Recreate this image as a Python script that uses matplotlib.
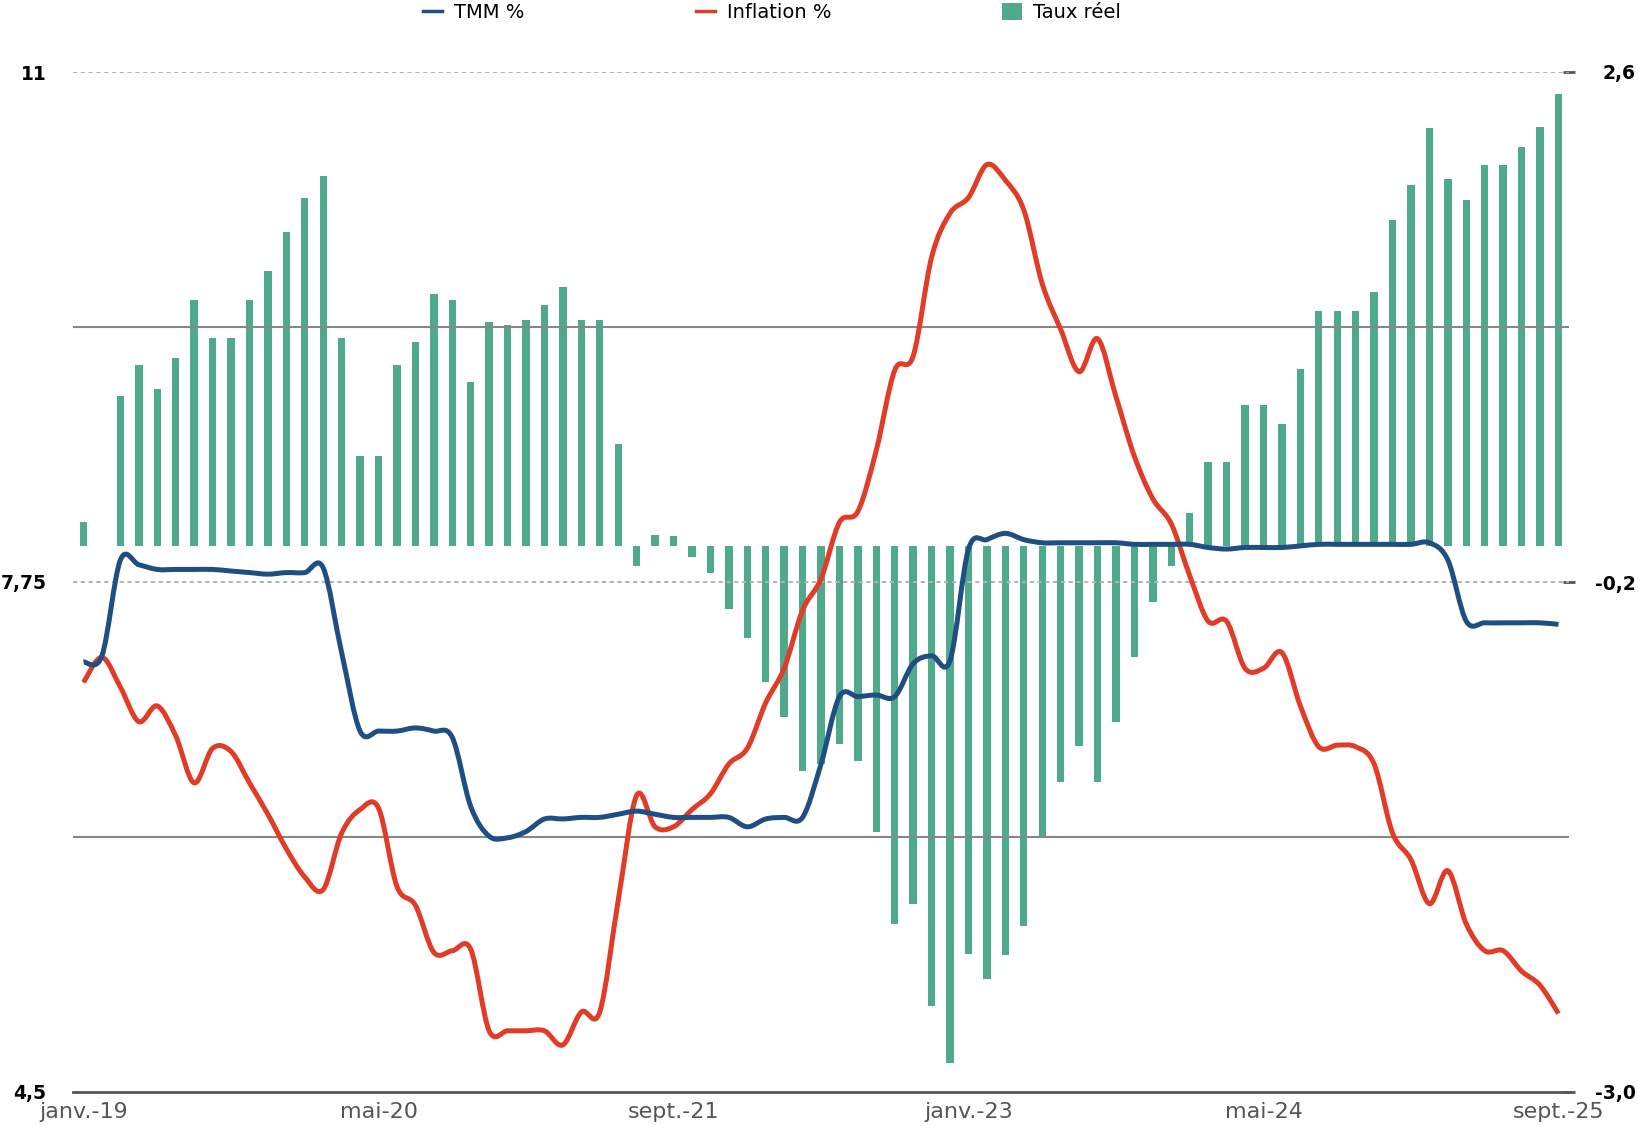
import matplotlib
matplotlib.use("Agg")
import matplotlib.pyplot as plt
import pandas as pd
from matplotlib.path import Path
from matplotlib.patches import PathPatch, Patch
from matplotlib.lines import Line2D

# Monthly data, janv. 2019 -> sept. 2025
mois = pd.date_range("2019-01-01", "2025-09-01", freq="MS")
noms_mois = ["janv.", "févr.", "mars", "avr.", "mai", "juin", "juil.", "août",
             "sept.", "oct.", "nov.", "déc."]
mois_labels = [f"{noms_mois[d.month - 1]}-{d.year % 100:02d}" for d in mois]
ticks_labels = ["janv.-19", "mai-20", "sept.-21", "janv.-23", "mai-24", "sept.-25"]

tmm = [7.24, 7.28, 7.89, 7.86, 7.83, 7.83, 7.83, 7.83, 7.82, 7.81, 7.80, 7.81,
       7.81, 7.84, 7.30, 6.80, 6.80, 6.80, 6.82, 6.80, 6.76, 6.32, 6.13, 6.12,
       6.16, 6.24, 6.24, 6.25, 6.25, 6.27, 6.29, 6.27, 6.25, 6.25, 6.25, 6.25,
       6.19, 6.24, 6.25, 6.25, 6.59, 7.02, 7.02, 7.03, 7.02, 7.23, 7.28, 7.25,
       7.96, 8.02, 8.06, 8.02, 8.00, 8.00, 8.00, 8.00, 8.00, 7.99, 7.99, 7.99,
       7.99, 7.97, 7.96, 7.97, 7.97, 7.97, 7.98, 7.99, 7.99, 7.99, 7.99, 7.99,
       7.99, 8.00, 7.89, 7.50, 7.49, 7.49, 7.49, 7.49, 7.48]

inflation = [7.11, 7.27, 7.08, 6.86, 6.96, 6.77, 6.47, 6.69, 6.67, 6.47, 6.27, 6.05,
             5.87, 5.79, 6.15, 6.30, 6.31, 5.81, 5.69, 5.39, 5.40, 5.41, 4.89, 4.89,
             4.89, 4.89, 4.80, 5.01, 5.01, 5.72, 6.39, 6.19, 6.19, 6.30, 6.40, 6.59,
             6.69, 6.98, 7.20, 7.57, 7.77, 8.13, 8.20, 8.59, 9.10, 9.19, 9.82, 10.10,
             10.20, 10.41, 10.31, 10.12, 9.65, 9.36, 9.09, 9.30, 8.93, 8.55, 8.28, 8.12,
             7.79, 7.50, 7.50, 7.20, 7.20, 7.30, 6.96, 6.70, 6.71, 6.70, 6.59, 6.15,
             5.98, 5.70, 5.91, 5.57, 5.40, 5.40, 5.27, 5.18, 5.00]

taux_reel = [0.13, 0.00, 0.82, 0.99, 0.86, 1.03, 1.35, 1.14, 1.14, 1.35, 1.51, 1.72,
             1.91, 2.03, 1.14, 0.49, 0.49, 0.99, 1.12, 1.38, 1.35, 0.90, 1.23, 1.21,
             1.24, 1.32, 1.42, 1.24, 1.24, 0.56, -0.11, 0.06, 0.05, -0.06, -0.15, -0.35,
             -0.51, -0.75, -0.94, -1.24, -1.20, -1.09, -1.18, -1.57, -2.08, -1.97, -2.53, -2.84,
             -2.24, -2.38, -2.25, -2.09, -1.60, -1.30, -1.10, -1.30, -0.97, -0.61, -0.31, -0.11,
             0.18, 0.46, 0.46, 0.77, 0.77, 0.67, 0.97, 1.29, 1.29, 1.29, 1.39, 1.79,
             1.98, 2.29, 2.01, 1.90, 2.09, 2.09, 2.19, 2.30, 2.48]

BLEU = "#1F4E82"
ROUGE = "#E03C28"
VERT = "#4FAA8D"


def courbe_lissee(xs, ys):
    # smooth curve through every point (cubic bezier, catmull-rom tangents)
    n = len(xs)
    verts = [(xs[0], ys[0])]
    codes = [Path.MOVETO]
    for k in range(n - 1):
        xa, ya = (xs[k - 1], ys[k - 1]) if k > 0 else (xs[k], ys[k])
        xb, yb = (xs[k + 2], ys[k + 2]) if k + 2 < n else (xs[k + 1], ys[k + 1])
        c1 = (xs[k] + (xs[k + 1] - xa) / 6, ys[k] + (ys[k + 1] - ya) / 6)
        c2 = (xs[k + 1] - (xb - xs[k]) / 6, ys[k + 1] - (yb - ys[k]) / 6)
        verts += [c1, c2, (xs[k + 1], ys[k + 1])]
        codes += [Path.CURVE4] * 3
    return Path(verts, codes)


x = list(range(len(mois_labels)))

fig = plt.figure(figsize=(16.4, 11.26), dpi=100)
ax = fig.add_axes([73 / 1640, 1 - 1092 / 1126, (1569 - 73) / 1640, (1092 - 72) / 1126])
ax2 = ax.twinx()

# bars on the right-hand scale
ax.bar(x, taux_reel, width=0.4, color=VERT, zorder=2)
ax.set_ylim(-3.0, 2.6)
ax.set_xlim(-0.57, len(x) - 1 + 0.57)

for niveau in [2.6, -0.2]:
    ax.axhline(niveau, color="#B3B3B3", lw=1.4, ls=(0, (2.2, 1.8)), zorder=3)
for niveau in [1.2, -1.6]:
    ax.axhline(niveau, color="#878787", lw=1.5, zorder=3)

for s in ["top", "left", "right"]:
    ax.spines[s].set_visible(False)
ax.spines["bottom"].set_color("#555555")
ax.spines["bottom"].set_linewidth(2)
for s in ax2.spines.values():
    s.set_visible(False)

ax.yaxis.tick_right()
ax.set_yticks([2.6, -0.2, -3.0])
ax.set_yticklabels(["2,6", "-0,2", "-3,0"])
ax.tick_params(axis="y", direction="inout", length=8, width=2, color="#555555",
               pad=44, labelsize=13.5)
for lab in ax.get_yticklabels():
    lab.set_ha("right")
    lab.set_fontweight("bold")

positions = [mois_labels.index(t) for t in ticks_labels]
ax.set_xticks(positions)
ax.set_xticklabels(ticks_labels)
ax.tick_params(axis="x", length=0, pad=7, labelsize=16, labelcolor="#555555")

# lines on the left-hand scale
ax2.set_ylim(4.5, 11)
ax2.yaxis.tick_left()
ax2.set_yticks([11, 7.75, 4.5])
ax2.set_yticklabels(["11", "7,75", "4,5"])
ax2.tick_params(axis="y", length=0, pad=19, labelsize=13.5)
for lab in ax2.get_yticklabels():
    lab.set_fontweight("bold")

for serie, couleur in [(inflation, ROUGE), (tmm, BLEU)]:
    ax2.add_patch(PathPatch(courbe_lissee(x, serie), facecolor="none", edgecolor=couleur,
                            lw=3.6, capstyle="butt", joinstyle="round", zorder=4))

poignees = [Line2D([], [], color=BLEU, lw=2.5), Line2D([], [], color=ROUGE, lw=2.5),
            Patch(facecolor=VERT, edgecolor="none")]
fig.legend(poignees, ["TMM %", "Inflation %", "Taux réel"], loc="center left",
           bbox_to_anchor=(423 / 1640, 1 - 12.5 / 1126), ncol=3, frameon=False,
           handlelength=1.0, handleheight=1.0, handletextpad=0.6, columnspacing=8.8,
           borderpad=0, borderaxespad=0,
           prop={"family": "DejaVu Sans", "size": 14})

fig.savefig("out.png", dpi=100)
